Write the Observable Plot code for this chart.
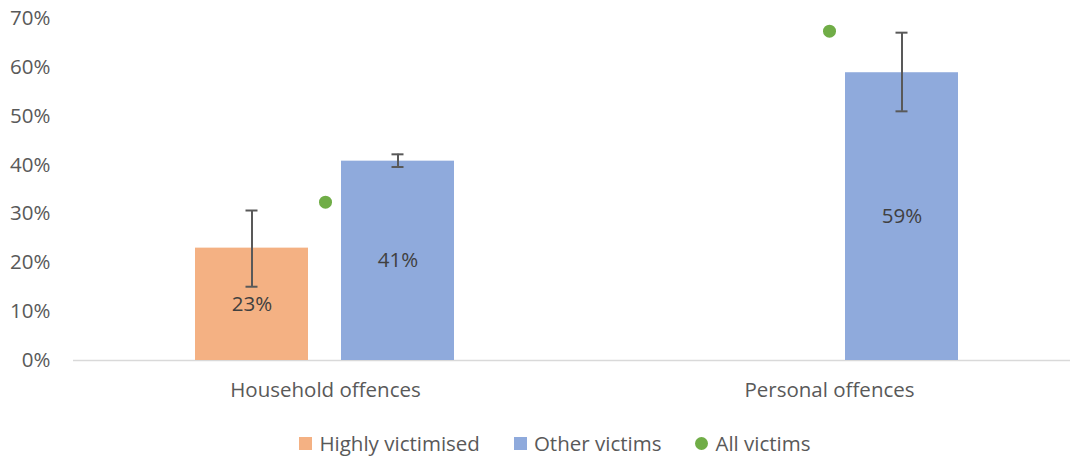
<!DOCTYPE html>
<html>
<head>
<meta charset="utf-8">
<script src="https://cdn.jsdelivr.net/npm/d3@7"></script>
<script src="https://cdn.jsdelivr.net/npm/@observablehq/plot@0.6"></script>
<style>
  html, body { margin: 0; padding: 0; background: #fff; }
  body { width: 1070px; height: 457px; overflow: hidden; font-family: "Open Sans", sans-serif; }
  #legend { display: flex; justify-content: center; align-items: center; height: 46px; padding-left: 40px; font-size: 20.5px; color: #595959; font-family: "Open Sans", sans-serif; }
  .item { display: flex; align-items: center; margin: 0 17px; }
  .sw { width: 13px; height: 13px; margin-right: 7px; }
  .dot { border-radius: 50%; }
</style>
</head>
<body>
<div id="chart"></div>
<div id="legend"></div>
<script>
const groups = ["Household offences", "Personal offences"];
const seriesNames = ["Highly victimised", "Other victims", "All victims"];
const seriesColors = ["#F4B183", "#8FAADC", "#70AD47"];
const highlyValues = [0.23, null];
const highlyLow = [0.151, null];
const highlyHigh = [0.307, null];
const otherValues = [0.408, 0.589];
const otherLow = [0.396, 0.510];
const otherHigh = [0.422, 0.671];
const allValues = [0.324, 0.674];
const yTicks = [0, 0.1, 0.2, 0.3, 0.4, 0.5, 0.6, 0.7];

const bars = [];
groups.forEach((g, i) => {
  if (highlyValues[i] != null) bars.push({group: g, series: seriesNames[0], value: highlyValues[i], low: highlyLow[i], high: highlyHigh[i]});
  if (otherValues[i] != null) bars.push({group: g, series: seriesNames[1], value: otherValues[i], low: otherLow[i], high: otherHigh[i]});
});
const dots = groups.map((g, i) => ({group: g, value: allValues[i]}));

const errColor = "#595959";
const chart = Plot.plot({
  width: 1070,
  height: 420,
  marginLeft: 73,
  marginRight: -11,
  marginTop: 18,
  marginBottom: 60,
  style: {fontFamily: "'Open Sans', sans-serif", fontSize: "20.5px", color: "#595959", background: "#fff"},
  fx: {domain: groups, padding: 0, label: null, axis: "bottom", tickSize: 0, tickPadding: 22},
  x: {domain: seriesNames.slice(0, 2), paddingInner: 0.226, paddingOuter: 0.839, axis: null},
  y: {domain: [0, 0.7], ticks: yTicks, tickFormat: d3.format(".0%"), label: null, tickSize: 0, tickPadding: 23},
  color: {domain: seriesNames, range: seriesColors},
  marks: [
    Plot.ruleY([0], {stroke: "#d9d9d9", strokeWidth: 1.5}),
    Plot.barY(bars, {fx: "group", x: "series", y: "value", fill: "series"}),
    Plot.text(bars, {fx: "group", x: "series", y: d => d.value / 2, text: d => d3.format(".0%")(d.value), fill: "#404040", fontSize: 20.5}),
    Plot.ruleX(bars, {fx: "group", x: "series", y1: "low", y2: "high", stroke: errColor, strokeWidth: 2}),
    Plot.tickY(bars, {fx: "group", x: "series", y: "low", stroke: errColor, strokeWidth: 2, insetLeft: 50.5, insetRight: 50.5}),
    Plot.tickY(bars, {fx: "group", x: "series", y: "high", stroke: errColor, strokeWidth: 2, insetLeft: 50.5, insetRight: 50.5}),
    Plot.dot(dots, {fx: "group", y: "value", r: 6.5, fill: seriesColors[2], stroke: "none"})
  ]
});
document.getElementById("chart").appendChild(chart);

const legend = document.getElementById("legend");
seriesNames.forEach((name, i) => {
  const item = document.createElement("div");
  item.className = "item";
  const sw = document.createElement("span");
  sw.className = "sw" + (i === 2 ? " dot" : "");
  sw.style.background = seriesColors[i];
  item.appendChild(sw);
  const t = document.createElement("span");
  t.textContent = name;
  item.appendChild(t);
  legend.appendChild(item);
});
</script>
</body>
</html>
